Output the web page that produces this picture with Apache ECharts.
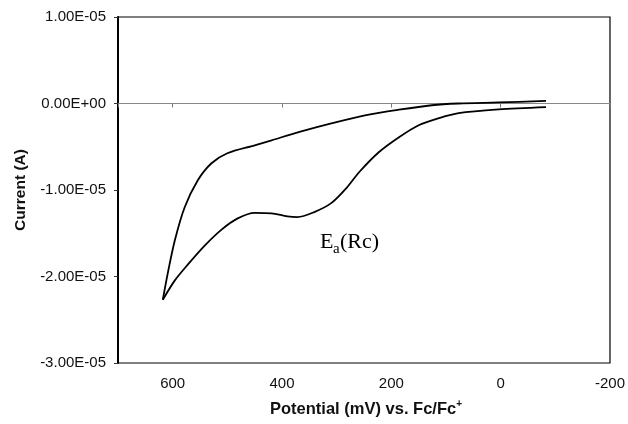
<!DOCTYPE html>
<html>
<head>
<meta charset="utf-8">
<script src="https://cdn.jsdelivr.net/npm/echarts@6/dist/echarts.min.js"></script>
<style>
html,body{margin:0;padding:0;background:#fff;}
#chart{width:628px;height:424px;}
</style>
</head>
<body>
<div id="chart"></div>
<script>
// Potential (mV vs Fc/Fc+) and current (A)
const potentialUpper = [-83, 4, 77, 126, 186, 246, 308, 368, 419, 450, 500, 529, 554, 578, 596, 609, 618];
const currentUpper = [3.0e-7, 1.2e-7, 0, -2.0e-7, -7.2e-7, -1.35e-6, -2.28e-6, -3.29e-6, -4.25e-6, -4.83e-6, -5.75e-6, -6.91e-6, -8.88e-6, -1.200e-5, -1.582e-5, -1.964e-5, -2.269e-5];
const potentialLower = [618, 596, 572, 541, 510, 481, 450, 419, 390, 372, 341, 310, 281, 259, 223, 186, 150, 113, 77, 4, -83];
const currentLower = [-2.269e-5, -2.045e-5, -1.860e-5, -1.640e-5, -1.455e-5, -1.328e-5, -1.264e-5, -1.270e-5, -1.305e-5, -1.313e-5, -1.255e-5, -1.152e-5, -9.69e-6, -7.95e-6, -5.64e-6, -3.90e-6, -2.51e-6, -1.70e-6, -1.12e-6, -6.9e-7, -4.2e-7];
const xTicks = [600, 400, 200, 0, -200];
const yTicks = [-3e-5, -2e-5, -1e-5, 0, 1e-5];

const FONT = '"Liberation Sans", Arial, sans-serif';
const SERIF = '"Liberation Serif", "Times New Roman", serif';

function zip(xs, ys) { return xs.map((x, i) => [x, ys[i]]); }
function fmtExp(v) {
  let s = Number(v).toExponential(2);
  return s.replace(/e([+-])(\d)$/, 'E$10$2').replace('e', 'E');
}

const chart = echarts.init(document.getElementById('chart'), null, {renderer: 'canvas'});
chart.setOption({
  backgroundColor: '#fff',
  animation: false,
  grid: {left: 118, right: 16, top: 17, bottom: 61, show: true, borderColor: '#000', borderWidth: 1.2, backgroundColor: 'transparent'},
  xAxis: [
    {
      type: 'value', inverse: true, min: -200, max: 700, interval: 200, position: 'bottom',
      axisLine: {show: false, onZero: false},
      axisTick: {show: false},
      splitLine: {show: false},
      axisLabel: {
        fontSize: 15, color: '#111', fontFamily: FONT, margin: 13,
        formatter: v => (xTicks.indexOf(v) >= 0 ? String(v) : '')
      }
    },
    {
      type: 'value', inverse: true, min: -200, max: 700, interval: 200, position: 'bottom',
      axisLine: {show: true, onZero: true, lineStyle: {color: '#888', width: 1}},
      axisTick: {show: true, length: 4, lineStyle: {color: '#777', width: 1}},
      splitLine: {show: false},
      axisLabel: {show: false}
    }
  ],
  yAxis: {
    type: 'value', min: -3e-5, max: 1e-5, interval: 1e-5,
    name: 'Current (A)', nameLocation: 'middle', nameGap: 89,
    nameTextStyle: {fontSize: 15.5, fontWeight: 'bold', color: '#111', fontFamily: FONT},
    axisLine: {show: true, onZero: false, lineStyle: {color: '#000', width: 2}},
    axisTick: {show: true, length: 4, lineStyle: {color: '#333'}},
    splitLine: {show: false},
    axisLabel: {fontSize: 15, color: '#111', fontFamily: FONT, margin: 12, formatter: v => fmtExp(v)}
  },
  series: [
    {
      type: 'line', xAxisIndex: 0, data: zip(potentialUpper, currentUpper),
      showSymbol: false, smooth: 0.3,
      lineStyle: {color: '#000', width: 1.8}
    },
    {
      type: 'line', xAxisIndex: 0, data: zip(potentialLower, currentLower),
      showSymbol: false, smooth: 0.3,
      lineStyle: {color: '#000', width: 1.8}
    }
  ],
  graphic: [
    {
      type: 'text', x: 366, y: 409,
      style: {
        text: '{m|Potential (mV) vs. Fc/Fc}{s|+}',
        align: 'center', verticalAlign: 'middle',
        rich: {
          m: {fontSize: 16.5, fontWeight: 'bold', fontFamily: FONT, fill: '#111', lineHeight: 19},
          s: {fontSize: 10, fontWeight: 'bold', fontFamily: FONT, fill: '#111', lineHeight: 10, verticalAlign: 'top'}
        }
      }
    },
    {type: 'text', x: 320, y: 242.5, style: {text: 'E', fontSize: 22, fontFamily: SERIF, fill: '#000', verticalAlign: 'middle', align: 'left'}},
    {type: 'text', x: 333, y: 249, style: {text: 'a', fontSize: 15, fontFamily: SERIF, fill: '#000', verticalAlign: 'middle', align: 'left'}},
    {type: 'text', x: 340, y: 242.5, style: {text: '(Rc)', fontSize: 22, fontFamily: SERIF, fill: '#000', verticalAlign: 'middle', align: 'left'}}
  ]
});
</script>
</body>
</html>
